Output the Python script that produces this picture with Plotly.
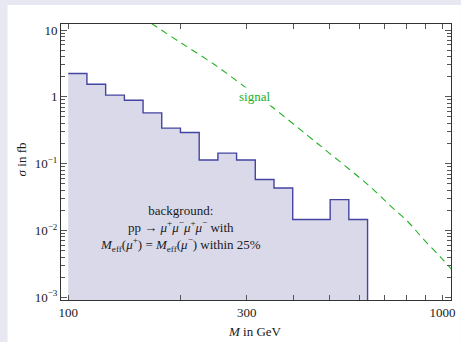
import math
import plotly.graph_objects as go

# ---- data ----
bin_edges = [100.0, 112.2, 125.9, 141.3, 158.5, 177.8, 199.5, 223.9, 251.2,
             281.8, 316.2, 354.8, 398.1, 446.7, 501.2, 562.3, 631.0]
background = [2.24, 1.54, 1.06, 0.89, 0.575, 0.34, 0.292, 0.1135, 0.144,
              0.1135, 0.058, 0.0433, 0.0146, 0.0146, 0.029, 0.0146]

signal_x = [166.7, 201, 247, 296.5, 343, 435, 492, 590, 654, 724, 810, 896, 993, 1061]
signal_y = [12.6, 6.32, 2.99, 1.41, 0.778, 0.267, 0.153, 0.067, 0.041, 0.0238,
            0.0134, 0.0071, 0.0039, 0.00258]

x_tickvals = [100, 200, 300, 400, 500, 600, 700, 800, 900, 1000]
x_ticktext = ["100", "", "300", "", "", "", "", "", "", "1000"]
y_tickvals = [1e-3, 1e-2, 1e-1, 1, 10]
y_ticktext = ["10<sup>\u22123</sup>", "10<sup>\u22122</sup>", "10<sup>\u22121</sup>", "1", "10"]
y_minor = [k * 10.0 ** d for d in range(-3, 2) for k in range(2, 10)]

BASE = 1e-5  # below visible range, closes the filled histogram

# ---- build step outline from the bins ----
sx, sy = [], []
for i, v in enumerate(background):
    sx += [bin_edges[i], bin_edges[i + 1]]
    sy += [v, v]
outline_x = sx + [bin_edges[-1]]
outline_y = sy + [BASE]
fill_x = [bin_edges[0]] + sx + [bin_edges[-1], bin_edges[0]]
fill_y = [BASE] + sy + [BASE, BASE]

FONT = "Liberation Serif, Times New Roman, serif"
fig = go.Figure()
fig.add_trace(go.Scatter(x=fill_x, y=fill_y, mode="lines", fill="toself",
                         fillcolor="#D9D9EA", line=dict(width=0),
                         hoverinfo="skip", showlegend=False))
fig.add_trace(go.Scatter(x=outline_x, y=outline_y, mode="lines",
                         line=dict(color="#4444A2", width=1.4),
                         showlegend=False))
fig.add_trace(go.Scatter(x=signal_x, y=signal_y, mode="lines",
                         line=dict(color="#22B022", width=1.1, dash="7px,5px", shape="spline"),
                         showlegend=False))

axis_common = dict(showline=True, linecolor="#333333", linewidth=1, mirror="allticks",
                   ticks="inside", tickcolor="#555555", showgrid=False, zeroline=False,
                   tickfont=dict(family=FONT, size=13, color="#1a1a1a"))

fig.update_xaxes(type="log", range=[1.9807, 3.023], tickmode="array",
                 tickvals=x_tickvals, ticktext=x_ticktext, ticklen=5, **axis_common)
fig.update_yaxes(type="log", range=[-3.04, 1.09], tickmode="array",
                 tickvals=y_tickvals, ticktext=y_ticktext, ticklen=6,
                 minor=dict(tickmode="array", tickvals=y_minor, ticks="inside",
                            ticklen=4, tickcolor="#555555", showgrid=False),
                 **axis_common)

fig.add_annotation(x=math.log10(315), y=0.0, text="signal", showarrow=False,
                   bgcolor="white", borderpad=1, xanchor="center", yanchor="middle",
                   font=dict(family=FONT, size=13, color="#22B022"))
fig.add_annotation(x=math.log10(199.5), y=-1.97,
                   text=("background:<br>pp \u2192 <i>\u03bc</i><sup>+</sup><i>\u03bc</i><sup>\u2212</sup>"
                         "<i>\u03bc</i><sup>+</sup><i>\u03bc</i><sup>\u2212</sup> with<br>"
                         "<i>M</i><sub>eff</sub>(<i>\u03bc</i><sup>+</sup>) = "
                         "<i>M</i><sub>eff</sub>(<i>\u03bc</i><sup>\u2212</sup>) within 25%"),
                   showarrow=False, align="center", xanchor="center", yanchor="middle",
                   font=dict(family=FONT, size=13, color="#1a1a1a"))
# axis titles
fig.add_annotation(xref="paper", yref="paper", x=(257 - 61) / 394, y=-(331 - 300) / 276,
                   text="<i>M</i> in GeV", showarrow=False, xanchor="center", yanchor="middle",
                   font=dict(family=FONT, size=13, color="#1a1a1a"))
fig.add_annotation(xref="paper", yref="paper", x=-(61 - 21) / 394, y=(300 - 159) / 276,
                   text="<i>\u03c3</i> in fb", showarrow=False, textangle=-90,
                   xanchor="center", yanchor="middle",
                   font=dict(family=FONT, size=13, color="#1a1a1a"))

# white panel on lavender page
fig.add_shape(type="rect", xref="paper", yref="paper", layer="below",
              x0=-(61 - 7) / 394, x1=(461 - 61) / 394 + 0.01,
              y0=-(342 - 300) / 276 - 0.01, y1=(300 - 5) / 276,
              fillcolor="white", line=dict(width=0))

fig.update_layout(width=461, height=342, margin=dict(l=61, r=6, t=24, b=42),
                  paper_bgcolor="#E8E8F3", plot_bgcolor="white",
                  font=dict(family=FONT), showlegend=False)
fig.write_html("out.html", config={"displayModeBar": False},
               post_script="document.body.style.margin='0';document.body.style.padding='0';document.body.style.overflow='hidden';")
